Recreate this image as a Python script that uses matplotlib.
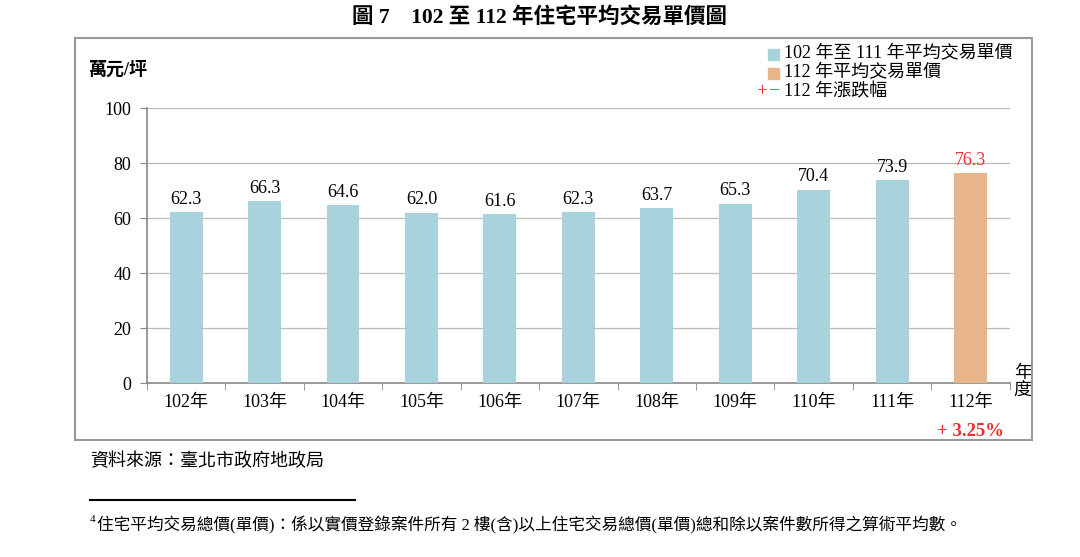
import matplotlib.pyplot as plt
from matplotlib.patches import Rectangle
from matplotlib.lines import Line2D

plt.rcParams['font.family'] = ['Liberation Serif', 'Noto Sans CJK TC']

years = ['102年', '103年', '104年', '105年', '106年', '107年', '108年', '109年', '110年', '111年', '112年']
prices = [62.3, 66.3, 64.6, 62.0, 61.6, 62.3, 63.7, 65.3, 70.4, 73.9, 76.3]
change_112 = '+ 3.25%'

blue = '#A8D2DC'
orange = '#E8B48A'
red = '#E8302E'
colors = [blue] * 10 + [orange]

fig = plt.figure(figsize=(10.8, 5.57), dpi=100)
ax = fig.add_axes([0.136, 0.312, 0.799, 0.494])

x = range(len(years))
ax.bar(x, prices, width=0.42, color=colors, zorder=3)
for i, v in enumerate(prices):
    ax.text(i, v + 1.5, f'{v:.1f}', ha='center', va='bottom', fontsize=13,
            color=red if i == len(prices) - 1 else 'black')

ax.set_xlim(-0.5, len(years) - 0.5)
ax.set_ylim(0, 100)
ax.set_yticks(range(0, 101, 20))
ax.grid(axis='y', color='#BBBBBB', lw=0.9, zorder=0)
ax.set_xticks(x)
ax.set_xticklabels(years, fontsize=13)
ax.set_xticks([i - 0.5 for i in range(len(years) + 1)], minor=True)
ax.tick_params(axis='x', which='major', length=0, pad=8)
ax.tick_params(axis='x', which='minor', length=5, color='#888888')
ax.tick_params(axis='y', length=5, color='#888888', labelsize=13, pad=6)
for s in ['top', 'right']:
    ax.spines[s].set_visible(False)
for s in ['left', 'bottom']:
    ax.spines[s].set_color('#888888')
    ax.spines[s].set_linewidth(1.2)

ax.text(len(years) - 1, -14.5, change_112, ha='center', va='top', fontsize=13.5,
        fontweight='bold', color=red)
ax.text(len(years) - 0.45, 0.5, '年\n度', ha='left', va='center', fontsize=13, linespacing=1.05)

# chart frame
fig.patches.append(Rectangle((75 / 1080, 1 - 440 / 557), 957 / 1080, 402 / 557,
                             transform=fig.transFigure, fill=False,
                             edgecolor='#999999', lw=1.5))

fig.text(0.5, 1 - 18 / 557, '圖 7　102 至 112 年住宅平均交易單價圖', ha='center', va='center',
         fontsize=15.5, fontweight='bold')
fig.text(88 / 1080, 1 - 70 / 557, '萬元/坪', ha='left', va='center', fontsize=13, fontweight='bold')

# legend
fig.patches.append(Rectangle((768 / 1080, 1 - 60 / 557), 11 / 1080, 11 / 557,
                             transform=fig.transFigure, color=blue))
fig.patches.append(Rectangle((768 / 1080, 1 - 79 / 557), 11 / 1080, 11 / 557,
                             transform=fig.transFigure, color=orange))
fig.text(784 / 1080, 1 - 54 / 557, '102 年至 111 年平均交易單價', va='center', fontsize=13)
fig.text(784 / 1080, 1 - 73 / 557, '112 年平均交易單價', va='center', fontsize=13)
fig.text(756 / 1080, 1 - 92 / 557, '+', va='center', fontsize=14, color=red)
fig.text(769 / 1080, 1 - 92 / 557, '−', va='center', fontsize=14, color='#3BA55C')
fig.text(784 / 1080, 1 - 92 / 557, '112 年漲跌幅', va='center', fontsize=13)

fig.text(90 / 1080, 1 - 461 / 557, '資料來源：臺北市政府地政局', va='center', fontsize=13)
fig.add_artist(Line2D([90 / 1080, 355 / 1080], [1 - 500 / 557, 1 - 500 / 557],
                      transform=fig.transFigure, color='black', lw=1.5))
fig.text(90 / 1080, 1 - 519 / 557, '4', va='center', fontsize=8)
fig.text(97 / 1080, 1 - 525 / 557,
         '住宅平均交易總價(單價)：係以實價登錄案件所有 2 樓(含)以上住宅交易總價(單價)總和除以案件數所得之算術平均數。',
         va='center', fontsize=12)

fig.savefig('out.png', dpi=100)
